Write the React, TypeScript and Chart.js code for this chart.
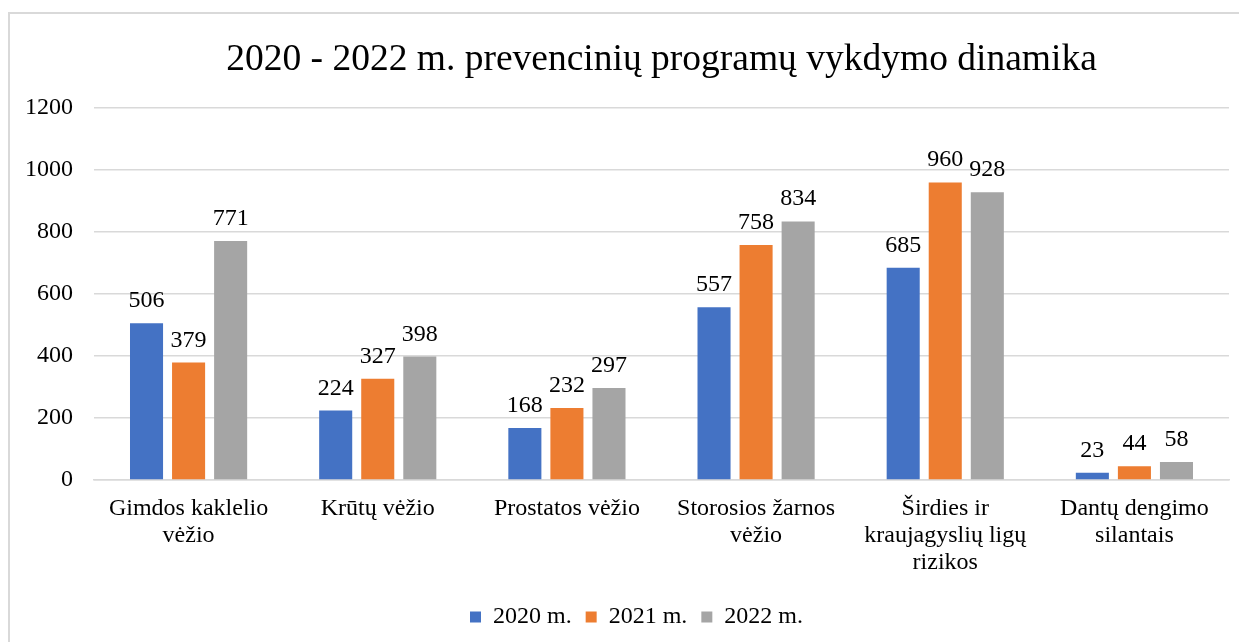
import React, { useEffect, useRef } from "react";
import { Chart, registerables } from "chart.js";

Chart.register(...registerables);

const categories: (string | string[])[] = [
  ["Gimdos kaklelio", "vėžio"],
  "Krūtų vėžio",
  "Prostatos vėžio",
  ["Storosios žarnos", "vėžio"],
  ["Širdies ir", "kraujagyslių ligų", "rizikos"],
  ["Dantų dengimo", "silantais"],
];
const seriesNames = ["2020 m.", "2021 m.", "2022 m."];
const values2020 = [506, 224, 168, 557, 685, 23];
const values2021 = [379, 327, 232, 758, 960, 44];
const values2022 = [771, 398, 297, 834, 928, 58];
const colors = ["#4472C4", "#ED7D31", "#A5A5A5"];
const titleText = "2020 - 2022 m. prevencinių programų vykdymo dinamika";

const FONT = "'Liberation Serif', 'Times New Roman', serif";

const dataLabelPlugin = {
  id: "dataLabels",
  afterLayout(chart: any) {
    const lg = chart.legend;
    if (lg) {
      lg.left += 17;
      lg.right += 17;
    }
  },
  afterDatasetsDraw(chart: any) {
    const ctx = chart.ctx;
    ctx.save();
    ctx.font = `24px ${FONT}`;
    ctx.fillStyle = "#000";
    ctx.textAlign = "center";
    ctx.textBaseline = "alphabetic";
    chart.data.datasets.forEach((ds: any, i: number) => {
      const meta = chart.getDatasetMeta(i);
      meta.data.forEach((bar: any, j: number) => {
        ctx.fillText(String(ds.data[j]), bar.x, bar.y - 16);
      });
    });
    ctx.restore();
  },
};

export default function App() {
  const ref = useRef<HTMLCanvasElement | null>(null);
  useEffect(() => {
    if (!ref.current) return;
    const chart = new Chart(ref.current, {
      type: "bar",
      data: {
        labels: categories,
        datasets: [values2020, values2021, values2022].map((d, i) => ({
          label: seriesNames[i],
          data: d,
          backgroundColor: colors[i],
          categoryPercentage: 0.667,
          barPercentage: 0.786,
        })),
      },
      options: {
        responsive: false,
        animation: false,
        devicePixelRatio: 1,
        layout: { padding: { left: 0, right: 18, top: 0, bottom: 3 } },
        plugins: {
          title: {
            display: true,
            text: titleText,
            fullSize: false,
            color: "#000",
            font: { family: FONT, size: 37.5, weight: "normal" },
            padding: { top: 24, bottom: 25 },
          },
          legend: {
            position: "bottom",
            labels: {
              color: "#000",
              font: { family: FONT, size: 24 },
              boxWidth: 11,
              boxHeight: 11,
              padding: 14,
            },
          },
          tooltip: { enabled: false },
        },
        scales: {
          x: {
            grid: { display: false, drawTicks: false },
            border: { display: true, color: "#d9d9d9", width: 1.5 },
            ticks: {
              color: "#000",
              font: { family: FONT, size: 24, lineHeight: 1.125 },
              padding: 15,
              maxRotation: 0,
              autoSkip: false,
            },
          },
          y: {
            min: 0,
            max: 1200,
            ticks: {
              stepSize: 200,
              color: "#000",
              font: { family: FONT, size: 24 },
              padding: 21,
              callback: (v: any) => String(v),
            },
            grid: { color: "#d9d9d9", lineWidth: 1.5, drawTicks: false },
            border: { display: false },
            afterFit: (scale: any) => {
              scale.width = 84;
            },
          } as any,
        },
      },
      plugins: [dataLabelPlugin],
    });
    return () => chart.destroy();
  }, []);
  return (
    <div
      style={{
        marginTop: 4,
        width: 1237,
        height: 628,
        borderLeft: "2px solid #d9d9d9",
        borderTop: "2px solid #d9d9d9",
        overflow: "hidden",
      }}
    >
      <canvas ref={ref} width={1237} height={628} style={{ display: "block", width: 1237, height: 628 }} />
    </div>
  );
}
